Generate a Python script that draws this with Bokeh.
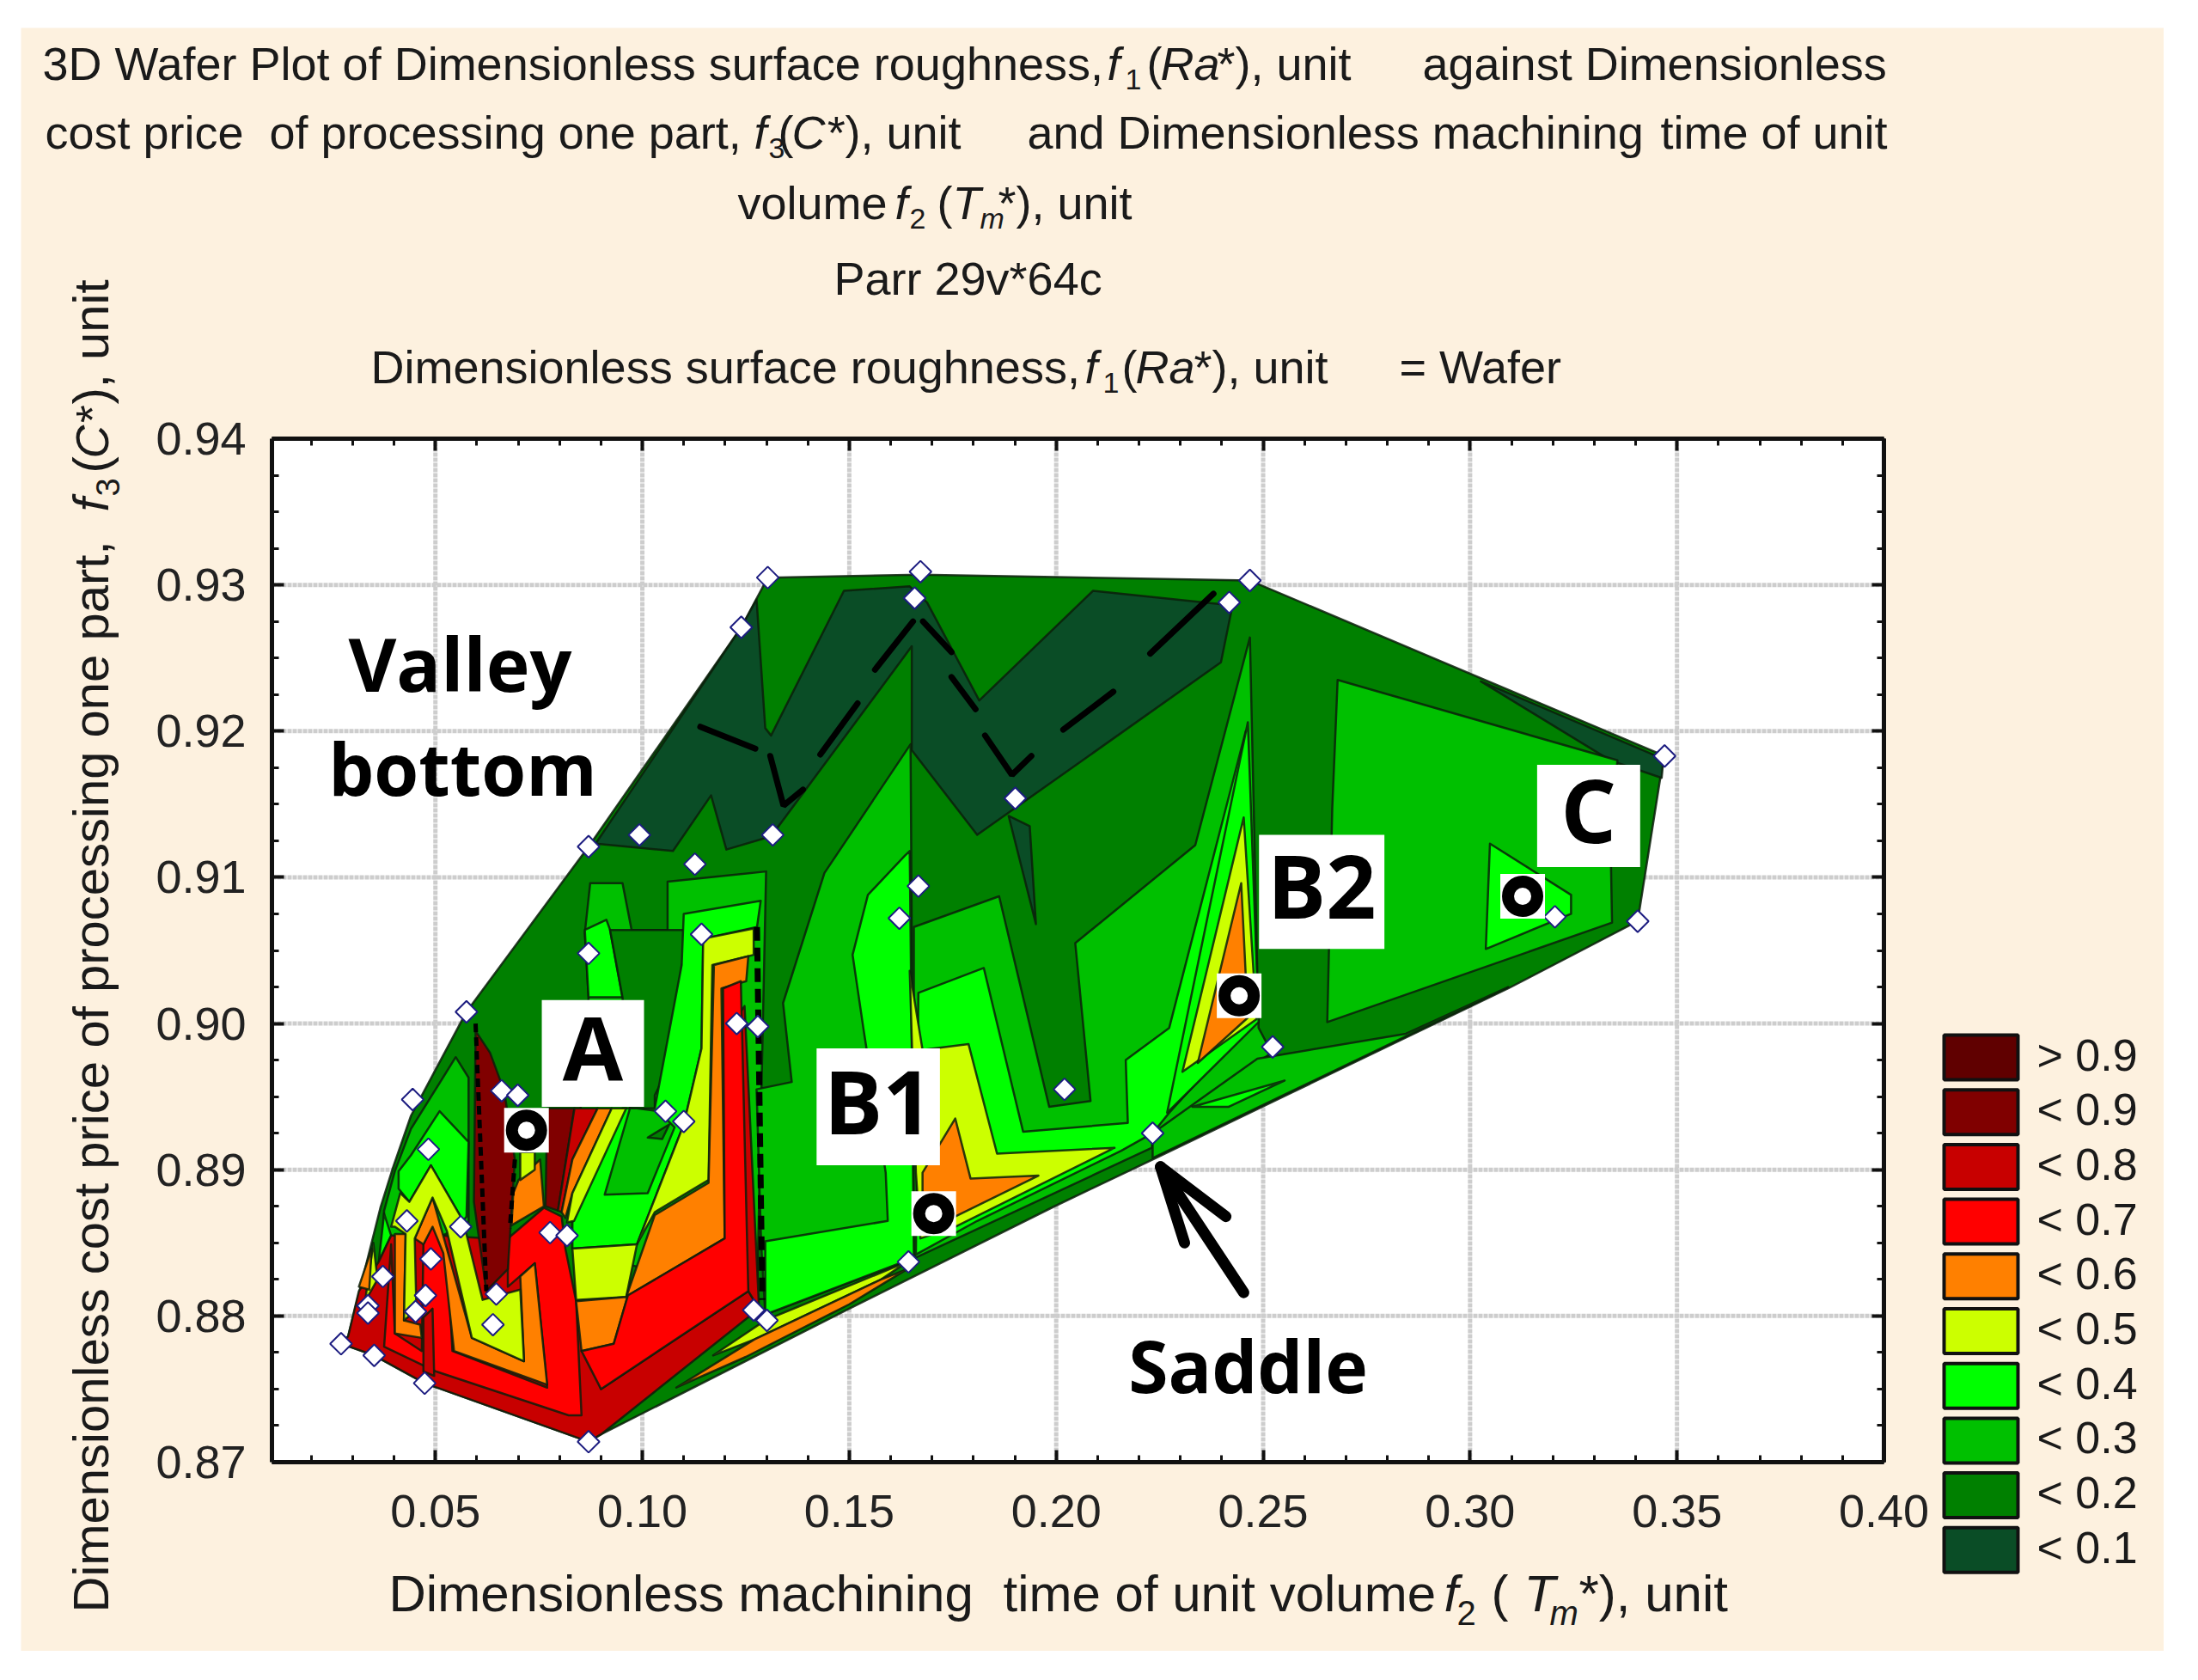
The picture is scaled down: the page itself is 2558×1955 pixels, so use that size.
from bokeh.plotting import figure
from bokeh.models import Label, BoxAnnotation, LinearAxis, FixedTicker, NumeralTickFormatter, Range1d
from bokeh.core.properties import value
from bokeh.embed import file_html
from bokeh.resources import INLINE
import math

# ---- contour regions, painted from low level to high level (x = f2, y = f3)
hull = [(.0272,.8781),(.0289,.8786),(.0367,.8874),(.0398,.8902),(.0441,.8937),(.0575,.9008),(.0870,.9121),(.1239,.9271),(.1303,.9305),(.1672,.9307),(.2468,.9303),(.3470,.9183),(.3463,.9174),(.3405,.9070),(.3092,.9024),(.2233,.8907),(.1996,.8875),(.1500,.8805),(.0900,.8719),(.0870,.8714),(.0474,.8754),(.0352,.8773)]
lt01_a = [(.0887,.9123),(.1074,.9118),(.1166,.9156),(.1203,.9119),(.1311,.9128),(.1651,.9258),(.1651,.9187),(.1809,.9129),(.2398,.9247),(.2426,.9286),(.2089,.9296),(.1814,.9221),(.1688,.9288),(.1646,.9299),(.1487,.9296),(.1311,.9197),(.1297,.9202),(.1276,.9290),(.1239,.9271)]
lt01_b = [(.1885,.9142),(.1951,.9068),(.1936,.9135)]
lt01_c = [(.3026,.9234),(.3467,.9181),(.3463,.9168),(.3339,.9180)]
lt03_a = [(.0376,.8872),(.0402,.8899),(.0441,.8928),(.0549,.8977),(.0580,.8963),(.0580,.8864),(.0372,.8834)]
lt03_b = [(.0874,.9096),(.0952,.9096),(.0974,.9064),(.1061,.9064),(.1061,.9097),(.1299,.9104),(.1277,.8811),(.0831,.8846),(.0831,.8864),(.0870,.9018),(.0861,.9062)]
lt03_c = [(.1648,.9191),(.1440,.9103),(.1340,.9014),(.1361,.8960),(.1276,.8955),(.1287,.8850),(.1297,.8801),(.1640,.8838),(.1656,.8842)]
lt03_d = [(.1656,.9066),(.1862,.9087),(.1983,.8943),(.2083,.8947),(.2046,.9055),(.2336,.9122),(.2468,.9264),(.2489,.8997),(.2521,.8980),(.2336,.8945),(.2233,.8921),(.2231,.8915),(.1661,.8840),(.1656,.8842)]
lt03_e = [(.2680,.9235),(.3356,.9180),(.3339,.9131),(.3343,.9069),(.2655,.9001),(.2667,.9147)]
lt03_f = [(.2486,.8976),(.2845,.8993),(.3092,.9025),(.2233,.8908),(.2233,.8925)]
lt02_tongue = [(.0922,.9064),(.1130,.9064),(.1139,.9050),(.1095,.9040),(.1087,.8983),(.1030,.8951),(.1030,.8940),(.0970,.8942),(.0952,.9018)]
lt02_small = [(.1013,.8922),(.1065,.8931),(.1048,.8921)]
lt04_a = [(.0411,.8899),(.0441,.8910),(.0510,.8940),(.0580,.8919),(.0575,.8868),(.0567,.8865),(.0489,.8903),(.0437,.8878),(.0411,.8887)]
lt04_b = [(.0861,.9064),(.0913,.9071),(.0922,.9064),(.0952,.9018),(.0870,.9018)]
lt04_c = [(.1100,.9075),(.1286,.9084),(.1277,.9066),(.1147,.9058),(.1143,.8983),(.1100,.8931),(.0987,.8849),(.0831,.8846),(.0831,.8864),(.0952,.8942),(.1030,.8942),(.1095,.9040)]
lt03_g = [(.0987,.8942),(.1039,.8940),(.1078,.8929),(.1013,.8884),(.0909,.8883),(.0970,.8942)]
lt04_d = [(.1635,.9115),(.1545,.9088),(.1508,.9047),(.1535,.8995),(.1588,.8898),(.1593,.8865),(.1297,.8851),(.1297,.8801),(.1640,.8838),(.1656,.8842),(.1646,.9118)]
lt04_e = [(.1667,.9021),(.1825,.9038),(.1920,.8926),(.2173,.8932),(.2168,.8975),(.2273,.8997),(.2458,.9200),(.2489,.9006),(.2273,.8939),(.2233,.8925),(.2157,.8913),(.1809,.8865),(.1661,.8842)]
lt04_f = [(.2463,.9206),(.2268,.8939),(.2489,.9001)]
lt04_g = [(.2329,.8943),(.2552,.8961),(.2416,.8943)]
lt04_h = [(.3048,.9123),(.3244,.9088),(.3244,.9075),(.3038,.9051)]
lt04_i = [(.0363,.8837),(.0376,.8870),(.0393,.8855)]
lt05_a = [(.0393,.8861),(.0415,.8884),(.0437,.8878),(.0489,.8903),(.0567,.8865),(.0614,.8811),(.0705,.8818),(.0714,.8769),(.0588,.8785),(.0528,.8858),(.0493,.8881),(.0450,.8853),(.0454,.8804),(.0424,.8797),(.0428,.8856),(.0402,.8861)]
lt05_b = [(.1147,.9058),(.1269,.9065),(.1269,.9047),(.1169,.9040),(.1160,.8893),(.1030,.8871),(.0987,.8849),(.1100,.8931),(.1143,.8983)]
lt05_c = [(.0831,.8846),(.0987,.8849),(.0961,.8813),(.0840,.8811)]
lt05_d = [(.0705,.8912),(.0740,.8912),(.0740,.8900),(.0705,.8893)]
lt05_e = [(.0926,.8942),(.0961,.8942),(.0835,.8865),(.0818,.8864),(.0831,.8884)]
lt05_f = [(.1646,.9036),(.1677,.8982),(.1788,.8986),(.1857,.8911),(.2141,.8915),(.1756,.8861),(.1672,.8853),(.1661,.8898)]
lt05_g = [(.2453,.9141),(.2305,.8967),(.2484,.9003)]
lt05_h = [(.1171,.8773),(.1297,.8797),(.1640,.8837),(.1577,.8825),(.1271,.8784)]
lt05_i = [(.0330,.8810),(.0350,.8850),(.0360,.8825)]
lt06_a = [(.1173,.9040),(.1256,.9046),(.1251,.9029),(.1191,.9024),(.1199,.8853),(.0965,.8814),(.0931,.8781),(.0853,.8776),(.0840,.8810),(.0961,.8813),(.1030,.8869),(.1160,.8891)]
lt06_b = [(.0402,.8856),(.0428,.8856),(.0424,.8797),(.0463,.8794),(.0467,.8785),(.0402,.8788)]
lt06_c = [(.0450,.8853),(.0493,.8881),(.0588,.8785),(.0714,.8769),(.0705,.8827),(.0740,.8836),(.0770,.8753),(.0545,.8776),(.0519,.8843),(.0493,.8861),(.0471,.8849)]
lt06_d = [(.0688,.8884),(.0701,.8893),(.0753,.8907),(.0762,.8875),(.0684,.8862)]
lt06_e = [(.0892,.8942),(.0926,.8942),(.0831,.8884),(.0814,.8867),(.0805,.8871),(.0831,.8907)]
lt06_f = [(.1677,.8898),(.1756,.8935),(.1793,.8894),(.1957,.8896),(.1756,.8868),(.1677,.8865)]
lt06_g = [(.2447,.9096),(.2342,.8973),(.2463,.9004)]
lt06_h = [(.1082,.8751),(.1271,.8784),(.1577,.8825),(.1640,.8832),(.1500,.8808),(.1250,.8772)]
lt06_i = [(.0315,.8820),(.0346,.8846),(.0340,.8818)]
lt07_a = [(.1195,.9024),(.1238,.9029),(.1256,.8817),(.0900,.8750),(.0853,.8776),(.0931,.8781),(.0965,.8814),(.1199,.8853)]
lt07_b = [(.0376,.8779),(.0393,.8849),(.0402,.8788),(.0467,.8776),(.0471,.8849),(.0493,.8862),(.0528,.8846),(.0541,.8776),(.0770,.8751),(.0740,.8836),(.0675,.8820),(.0675,.8853),(.0762,.8874),(.0805,.8868),(.0814,.8846),(.0840,.8810),(.0853,.8732),(.0822,.8732),(.0502,.8762)]
lt08_a = [(.0289,.8786),(.0315,.8817),(.0363,.8837),(.0393,.8855),(.0460,.8855),(.0513,.8855),(.0800,.8850),(.0850,.8800),(.0900,.8750),(.1256,.8817),(.1282,.8805),(.0900,.8719),(.0870,.8714),(.0474,.8754),(.0352,.8773),(.0272,.8781)]
lt08_b = [(.0471,.8799),(.0493,.8805),(.0497,.8759),(.0471,.8762)]
lt08_c = [(.0836,.8942),(.0892,.8942),(.0831,.8907),(.0805,.8871),(.0796,.8872)]
lt08_d = [(.1204,.8995),(.1247,.9012),(.1282,.8805),(.1256,.8817)]
lt09_a = [(.0597,.8995),(.0632,.8980),(.0666,.8954),(.0692,.8907),(.0675,.8832),(.0623,.8817),(.0593,.8878)]
lt09_b = [(.0770,.8942),(.0836,.8942),(.0796,.8872),(.0766,.8875)]

# ---- sample points
point_x = [.0272,.0352,.0474,.0870,.0337,.0337,.0373,.0431,.0489,.0476,.0452,.0445,.0483,.0561,.0575,.0660,.0699,.0647,.0639,.0777,.0818,.0870,.0993,.1127,.1315,.0870,.1143,.1228,.1279,.1056,.1100,.1269,.1301,.1303,.1239,.1672,.1658,.2468,.2418,.1901,.1667,.1621,.2523,.2020,.2233,.1643,.3470,.3405,.3205]
point_y = [.8781,.8773,.8754,.8714,.8807,.8802,.8827,.8865,.8839,.8814,.8803,.8948,.8914,.8861,.9008,.8954,.8951,.8815,.8794,.8857,.8855,.9121,.9129,.9109,.9129,.9048,.9061,.9000,.8998,.8940,.8933,.8804,.8797,.9305,.9271,.9309,.9291,.9303,.9288,.9154,.9094,.9072,.8984,.8955,.8925,.8837,.9183,.9070,.9073]

# ---- annotations
peak_names = ["A", "B1", "B2", "C"]
peak_x = [.0720, .1704, .2442, .3127]
peak_y = [.8927, .8870, .9019, .9087]
box_left = [.0757, .1421, .2490, .3162]
box_right = [.1004, .1719, .2793, .3411]
box_top = [.9016, .8983, .9129, .9177]
box_bottom = [.8943, .8903, .9051, .9107]
valley_x = [[.1140,.1273],[.1309,.1341,.1388],[.1430,.1520],[.1562,.1654],[.1678,.1747],[.1747,.1805],[.1828,.1893,.1940],[.2017,.2138],[.2227,.2380]]
valley_y = [[.9203,.9188],[.9183,.9149,.9160],[.9184,.9219],[.9242,.9275],[.9275,.9254],[.9237,.9215],[.9197,.9170,.9183],[.9201,.9227],[.9253,.9294]]
arrow_x = [[.2453,.2252,.2410],[.2252,.2310]]
arrow_y = [[.8816,.8902,.8868],[.8902,.8850]]

levels = ["> 0.9","< 0.9","< 0.8","< 0.7","< 0.6","< 0.5","< 0.4","< 0.3","< 0.2","< 0.1"]
level_colors = ["#600000","#800000","#c80000","#ff0000","#ff8000","#ccff00","#00ff00","#00c000","#008000","#0a4d26"]
x_ticks = [.05,.10,.15,.20,.25,.30,.35,.40]
y_ticks = [.87,.88,.89,.90,.91,.92,.93,.94]
x_limits = (.0105,.40)
y_limits = (.87,.94)

C1, C2, C3, C4, C5, C6, C7, C8, C9 = "#0a4d26","#008000","#00c000","#00ff00","#ccff00","#ff8000","#ff0000","#c80000","#800000"
layers = [(hull,C2),(lt01_a,C1),(lt01_b,C1),(lt01_c,C1),
 (lt03_a,C3),(lt03_b,C3),(lt03_c,C3),(lt03_d,C3),(lt03_e,C3),(lt03_f,C3),
 (lt04_a,C4),(lt04_b,C4),(lt02_tongue,C2),(lt04_c,C4),(lt03_g,C3),(lt02_small,C2),(lt04_d,C4),(lt04_e,C4),(lt04_f,C4),(lt04_g,C4),(lt04_h,C4),(lt04_i,C4),
 (lt08_a,C8),(lt07_b,C7),(lt06_b,C6),(lt06_c,C6),(lt05_a,C5),(lt05_b,C5),(lt05_c,C5),(lt06_a,C6),(lt08_d,C8),(lt07_a,C7),(lt08_b,C8),
 (lt09_a,C9),(lt06_d,C6),(lt05_d,C5),(lt09_b,C9),(lt08_c,C8),(lt06_e,C6),(lt05_e,C5),(lt05_f,C5),(lt05_g,C5),(lt05_h,C5),(lt05_i,C5),
 (lt06_f,C6),(lt06_g,C6),(lt06_h,C6),(lt06_i,C6)]

W, H = 2494, 1889
OX, OY = 24, 32   # canvas corner in the picture
PL, PR, PT, PB = 316, 2192, 510, 1701   # plot rectangle in the picture
ux = (x_limits[1]-x_limits[0])/(PR-PL); uy = (y_limits[1]-y_limits[0])/(PB-PT)
x_range = Range1d(x_limits[0]-(PL-OX)*ux, x_limits[1]+(OX+W-PR)*ux)
y_range = Range1d(y_limits[0]-(OY+H-PB)*uy, y_limits[1]+(PT-OY)*uy)
p = figure(width=W, height=H, x_range=x_range, y_range=y_range, output_backend="svg", toolbar_location=None,
           background_fill_color="#fdf1df", border_fill_color="#fdf1df",
           min_border_left=0, min_border_right=0, min_border_top=0, min_border_bottom=0,
           margin=(32,0,0,24), x_axis_type=None, y_axis_type=None)
p.outline_line_color = None
p.grid.visible = False

FONT = "Liberation Sans"
x_minor = [round(.01*i,2) for i in range(2,41)]
y_minor = [.87+.0025*i for i in range(29)]
def make_axis(side, show):
    horizontal = side in ("below","above")
    ax = LinearAxis(ticker=FixedTicker(ticks=x_ticks if horizontal else y_ticks, minor_ticks=x_minor if horizontal else y_minor),
                    formatter=NumeralTickFormatter(format="0.00"), bounds=x_limits if horizontal else y_limits)
    ax.fixed_location = {"below":y_limits[0],"above":y_limits[1],"left":x_limits[0],"right":x_limits[1]}[side]
    ax.axis_line_color = "#111111"; ax.axis_line_width = 5
    ax.major_tick_line_color = "#111111"; ax.major_tick_line_width = 4
    ax.minor_tick_line_color = "#111111"; ax.minor_tick_line_width = 3
    ax.major_tick_in = 14; ax.major_tick_out = 0
    ax.minor_tick_in = 8; ax.minor_tick_out = 0
    ax.major_label_text_font = FONT
    ax.major_label_text_font_size = "54px"
    ax.major_label_text_color = "#222222"
    ax.major_label_standoff = 38 if side == "below" else 30
    if not show:
        ax.major_label_text_font_size = "0px"
        ax.major_label_text_color = None
    p.add_layout(ax, side)

# plot area
p.quad(left=[x_limits[0]], right=[x_limits[1]], bottom=[y_limits[0]], top=[y_limits[1]], fill_color="white", line_color=None)
# dotted grid drawn from tick values
p.multi_line([[t,t] for t in x_ticks[:-1]], [list(y_limits)]*7, line_color="#cdcdcd", line_width=5, line_dash="5 1")
p.multi_line([list(x_limits)]*6, [[t,t] for t in y_ticks[1:-1]], line_color="#cdcdcd", line_width=5, line_dash="5 1")

for poly, col in layers:
    p.patch([q[0] for q in poly],[q[1] for q in poly], fill_color=col, line_color="#0a1f0a", line_width=2.5, line_alpha=.85, line_join="round")

# dashed dark seams
p.multi_line([[.0597,.0623],[.0692,.0680]], [[.9000,.8817],[.8907,.8860]], line_color="black", line_width=5, line_dash="10 6")
p.multi_line([[.1277,.1290]], [[.9066,.8811]], line_color="black", line_width=7, line_dash="16 8")
p.multi_line(valley_x, valley_y, line_color="black", line_width=7, line_cap="round")
p.multi_line(arrow_x, arrow_y, line_color="black", line_width=13, line_cap="round", line_join="round")

p.scatter(point_x, point_y, marker="square", angle=math.pi/4, size=18, fill_color="white", line_color="#1c1c80", line_width=2)

p.quad(left=box_left, right=box_right, top=box_top, bottom=box_bottom, fill_color="white", line_color=None)
p.scatter(peak_x, peak_y, marker="square", size=52, fill_color="white", line_color=None)
p.scatter(peak_x, peak_y, marker="circle", size=34, fill_color="white", line_color="black", line_width=14)

p.text([(l+r)/2 for l,r in zip(box_left,box_right)], [(t+b)/2 for t,b in zip(box_top,box_bottom)], text=peak_names, y_offset=-8,
       text_font=value("Open Sans"), text_font_style="bold", text_font_size="102px", text_align="center", text_baseline="middle", text_color="black")

make_axis("below", True); make_axis("left", True); make_axis("above", False); make_axis("right", False)

def lab(text, cx, cy, size=54, italic=False, bold=False, angle=0, align="left", base="alphabetic", font=FONT, color="#1a1a1a"):
    style = "bold" if bold else ("italic" if italic else "normal")
    if base == "alphabetic":   # rendered text sits low of the requested baseline
        if angle: cx -= size*.39
        else: cy -= size*.39
    p.add_layout(Label(x=cx-OX, y=cy-OY, x_units="canvas", y_units="canvas", text=text, text_font=font, text_font_size=f"{size}px",
                       text_font_style=style, text_color=color, angle=angle, angle_units="rad", text_align=align, text_baseline=base))

# big words
lab("Valley", 535, 771, 86, bold=True, align="center", base="middle", font="Open Sans", color="black")
lab("bottom", 538, 893, 84, bold=True, align="center", base="middle", font="Open Sans", color="black")
lab("Saddle", 1452, 1588, 84, bold=True, align="center", base="middle", font="Open Sans", color="black")

# titles
lab("3D Wafer Plot of Dimensionless surface roughness,", 49, 95); lab("f", 1288, 95, italic=True); lab("1", 1309, 105, 34); lab("(", 1334, 95); lab("Ra", 1350, 95, italic=True); lab("*), unit", 1416, 95); lab("against Dimensionless", 1655, 95)
lab("cost price", 52, 175); lab("of processing one part,", 313, 175); lab("f", 877, 175, italic=True); lab("3", 894, 185, 34); lab("(", 905, 175); lab("C*", 921, 175, italic=True); lab("), unit", 983, 175); lab("and Dimensionless machining", 1195, 175); lab("time of unit", 1932, 175)
lab("volume", 858, 257); lab("f", 1041, 257, italic=True); lab("2", 1058, 267, 34); lab("(", 1090, 257); lab("T", 1108, 257, italic=True); lab("m", 1140, 267, 34, italic=True); lab("*), unit", 1161, 257)
lab("Parr 29v*64c", 970, 345)
lab("Dimensionless surface roughness,", 431, 448); lab("f", 1262, 448, italic=True); lab("1", 1283, 458, 34); lab("(", 1305, 448); lab("Ra", 1321, 448, italic=True); lab("*), unit", 1389, 448); lab("= Wafer", 1628, 448)

# x label
lab("Dimensionless machining", 452, 1877, 60); lab("time of unit volume", 1167, 1877, 60); lab("f", 1680, 1877, 60, italic=True); lab("2", 1695, 1892, 40); lab("(", 1735, 1877, 60); lab("T", 1773, 1877, 60, italic=True); lab("m", 1803, 1892, 40, italic=True); lab("*), unit", 1837, 1877, 60)

# y label
r90 = math.pi/2
lab("Dimensionless cost price", 128, 1876, 58, angle=r90); lab("of processing one part,", 128, 1219, 58, angle=r90); lab("f", 128, 595, 58, italic=True, angle=r90); lab("3", 140, 577, 38, angle=r90); lab("(", 128, 550, 58, angle=r90); lab("C*", 128, 533, 54, italic=True, angle=r90); lab("), unit", 128, 470, 58, angle=r90)

# legend
for i,(t,c) in enumerate(zip(levels, level_colors)):
    top = 1204 + 63.7*i
    p.add_layout(BoxAnnotation(left=2262-OX, right=2348-OX, top=top-OY, bottom=top+52-OY, left_units="canvas", right_units="canvas", top_units="canvas", bottom_units="canvas",
                               fill_color=c, fill_alpha=1, line_color="#111111", line_width=4, line_alpha=1))
    lab(t, 2370, top+23, 52, base="middle")

open("out.html","w").write(file_html(p, INLINE))
